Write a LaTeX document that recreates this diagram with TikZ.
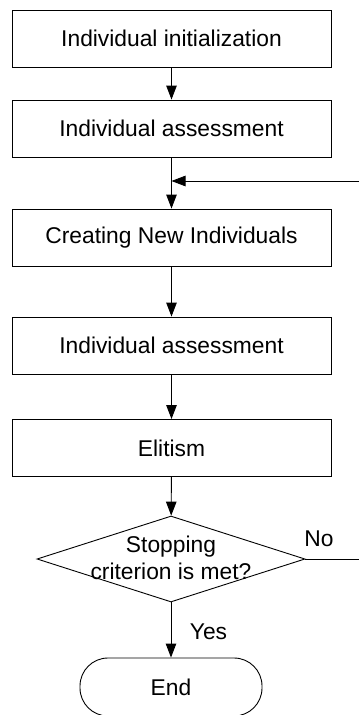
\documentclass[tikz,border=0pt]{standalone}
\usepackage{fontspec}
\setmainfont{Liberation Sans}
\usetikzlibrary{arrows.meta,shapes.geometric}
\begin{document}
\begin{tikzpicture}[x=1pt,y=-1pt,
  font=\fontsize{22.8}{26.5}\selectfont,
  stepbox/.style={draw, line width=0.9pt, minimum width=319pt, minimum height=57pt, inner sep=0pt},
  flow/.style={draw, line width=0.9pt, -{Triangle[length=14pt,width=10.5pt]}},
  plain/.style={draw, line width=0.9pt}]
\useasboundingbox (0,0) rectangle (359,715);

% process steps
\node[stepbox] (init)   at (171.5,38.5)  {Individual initialization};
\node[stepbox] (eval1)  at (171.5,128.5) {Individual assessment};
\node[stepbox] (create) at (171.5,237.5) {Creating New Individuals};
\node[stepbox] (eval2)  at (171.5,345.5) {Individual assessment};
\node[stepbox] (elite)  at (171.5,448)   {Elitism};

% decision
\node[diamond, draw, line width=0.9pt, minimum width=268pt, minimum height=86pt, inner sep=0pt] (dec) at (171,559) {};
\node[align=center] (dectext) at (171,558) {Stopping\\criterion is met?};

% terminal
\node[draw, line width=0.9pt, rounded corners=28pt, minimum width=182pt, minimum height=58pt, inner sep=0pt] (stop) at (171,687) {End};

% loop points
\coordinate (join) at (171.5,181);
\coordinate (back) at (359,181);
\coordinate (noend) at (359,559);

% connectors
\path[flow] (init) -- (eval1);
\path[plain] (eval1) -- (join);
\path[flow] (join) -- (create);
\path[flow] (back) -- (join);
\path[flow] (create) -- (eval2);
\path[flow] (eval2) -- (elite);
\path[flow] (elite) -- (dec);
\path[plain] (dec.east) -- (noend);
\path[flow] (dec) -- (stop);

% branch labels
\node (nolbl) at (319,539) {No};
\node (yeslbl) at (208.5,632) {Yes};
\end{tikzpicture}
\end{document}
